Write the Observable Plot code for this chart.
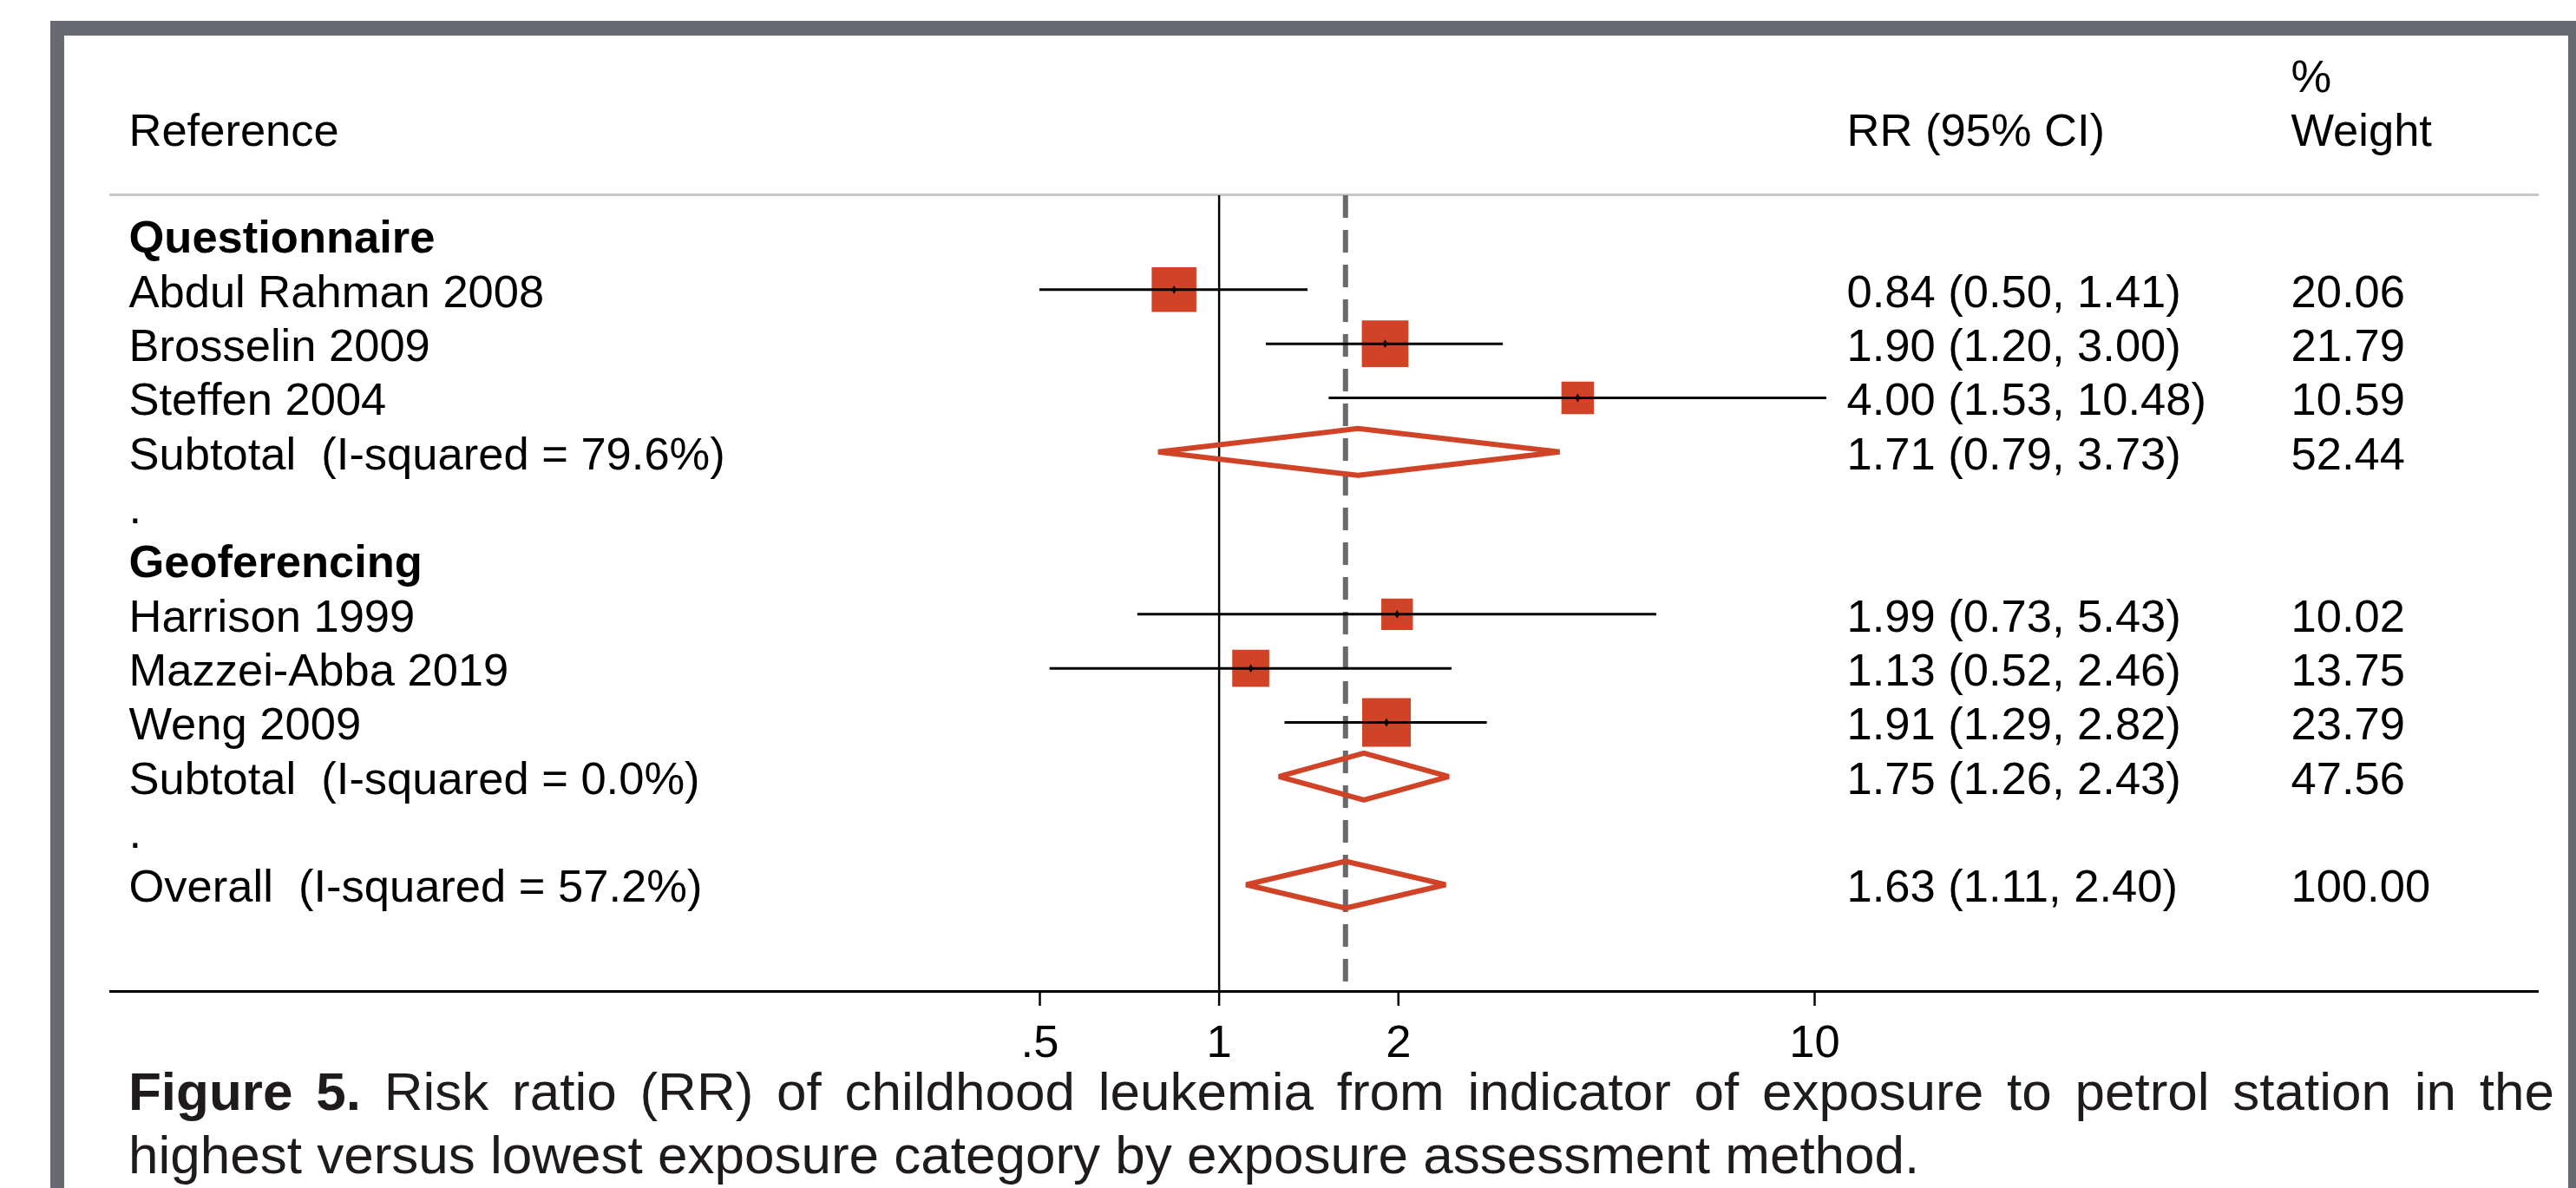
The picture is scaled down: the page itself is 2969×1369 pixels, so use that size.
<!DOCTYPE html>
<html>
<head>
<meta charset="utf-8">
<script src="https://cdn.jsdelivr.net/npm/d3@7"></script>
<script src="https://cdn.jsdelivr.net/npm/@observablehq/plot@0.6"></script>
<style>
  html, body { margin: 0; padding: 0; background: #ffffff; width: 2969px; height: 1369px; overflow: hidden; }
  #chart { position: absolute; left: 0; top: 0; }
  #frame { position: absolute; left: 58px; top: 24px; width: 3000px; height: 1400px;
           border-left: 16px solid #676a6e; border-top: 17px solid #676a6e; box-sizing: border-box; }
  #frameR { position: absolute; left: 2960px; top: 24px; width: 16px; height: 1400px; background: #676a6e; }
  .cap { position: absolute; left: 148px; width: 2796px; white-space: nowrap;
         font-family: "Liberation Sans", Arial, Helvetica, sans-serif; font-size: 62px; line-height: 73px;
         color: #1f1b1c; }
  #cap1 { top: 1221px; text-align: justify; text-align-last: justify; white-space: normal; }
  #cap2 { top: 1294px; text-align: left; }
  .cap b { font-weight: bold; }
</style>
</head>
<body>
<div id="chart"></div>
<div id="frame"></div>
<div id="frameR"></div>
<div id="cap1" class="cap"><b>Figure 5.</b> Risk ratio (RR) of childhood leukemia from indicator of exposure to petrol station in the</div>
<div id="cap2" class="cap">highest versus lowest exposure category by exposure assessment method.</div>
<script>
// ---- data ----
const rowLabels = [
  "Questionnaire",
  "Abdul Rahman 2008",
  "Brosselin 2009",
  "Steffen 2004",
  "Subtotal\u00a0 (I-squared = 79.6%)",
  ".",
  "Geoferencing",
  "Harrison 1999",
  "Mazzei-Abba 2019",
  "Weng 2009",
  "Subtotal\u00a0 (I-squared = 0.0%)",
  ".",
  "Overall\u00a0 (I-squared = 57.2%)"
];
const rowKinds = ["group","study","study","study","subtotal","blank","group","study","study","study","subtotal","blank","overall"];
const rrValues = [null, 0.84, 1.90, 4.00, 1.71, null, null, 1.99, 1.13, 1.91, 1.75, null, 1.63];
const ciLow    = [null, 0.50, 1.20, 1.53, 0.79, null, null, 0.73, 0.52, 1.29, 1.26, null, 1.11];
const ciHigh   = [null, 1.41, 3.00, 10.48, 3.73, null, null, 5.43, 2.46, 2.82, 2.43, null, 2.40];
const weights  = [null, 20.06, 21.79, 10.59, 52.44, null, null, 10.02, 13.75, 23.79, 47.56, null, 100.00];
const tickValues = [0.5, 1, 2, 10];
const tickLabels = [".5", "1", "2", "10"];
const headerLeft = "Reference";
const headerRR = "RR (95% CI)";
const headerW1 = "%";
const headerW2 = "Weight";

// ---- layout / style ----
const FONT = "Liberation Sans, Arial, Helvetica, sans-serif";
const RED = "#d04326";
const FS = 52.5;
const TDY = 3;
const yTop = 271, yBottom = 1019;
const rowStep = (yBottom - yTop) / (rowLabels.length - 1);
const rowAt = px => (px - yTop) / rowStep;
const diamondHalf = 27 / rowStep;
const fmt = d3.format(".2f");
const tickLabelOf = new Map(tickValues.map((v, i) => [v, tickLabels[i]]));

const rows = rowLabels.map((label, i) => ({
  i, label, kind: rowKinds[i], rr: rrValues[i], lo: ciLow[i], hi: ciHigh[i], w: weights[i]
}));
const studies = rows.filter(d => d.kind === "study");
const pooled = rows.filter(d => d.kind === "subtotal" || d.kind === "overall");
const overall = rows.find(d => d.kind === "overall");
const withStats = rows.filter(d => d.rr != null);
const diamondPts = pooled.flatMap(d => [
  {x: d.lo, y: d.i, g: d.i},
  {x: d.rr, y: d.i - diamondHalf, g: d.i},
  {x: d.hi, y: d.i, g: d.i},
  {x: d.rr, y: d.i + diamondHalf, g: d.i}
]);

const sepRow = rowAt(224);
const axisRow = rowAt(1142);
const colLabel = 22, colRR = 2002, colW = 2514;

const chart = Plot.plot({
  width: 2969,
  height: 1240,
  marginLeft: 126,
  marginRight: 43,
  marginTop: 0,
  marginBottom: 98,
  style: {fontFamily: FONT, fontSize: FS + "px", background: "transparent", color: "black", overflow: "visible"},
  x: {type: "log", domain: [0.5, 10], range: [1198, 2091], label: null, axis: null},
  y: {domain: [0, rowLabels.length - 1], range: [yTop, yBottom], axis: null, label: null},
  r: {type: "sqrt", domain: [0, 100], range: [0, 64.9]},
  marks: [
    Plot.ruleY([sepRow], {stroke: "#c6c6c6", strokeWidth: 3}),
    Plot.ruleX([1], {y1: rowAt(225), y2: axisRow, stroke: "black", strokeWidth: 2.5}),
    Plot.ruleX([overall.rr], {y1: rowAt(225), y2: axisRow, stroke: "#66696e", strokeWidth: 6, strokeDasharray: "26,14"}),
    Plot.dot(studies, {x: "rr", y: "i", r: "w", symbol: "square", fill: RED, stroke: "none"}),
    Plot.ruleY(studies, {y: "i", x1: "lo", x2: "hi", stroke: "black", strokeWidth: 3}),
    Plot.dot(studies, {x: "rr", y: "i", r: 3, symbol: "diamond", fill: "black", stroke: "none"}),
    Plot.line(diamondPts, {x: "x", y: "y", z: "g", curve: "linear-closed", stroke: RED, strokeWidth: 6, strokeLinejoin: "miter"}),
    Plot.ruleY([axisRow], {stroke: "black", strokeWidth: 3}),
    Plot.axisX(tickValues, {anchor: "bottom", tickFormat: d => tickLabelOf.get(d), tickSize: 17, tickPadding: 21,
      fontSize: FS, strokeWidth: 2.5, stroke: "black", label: null}),
    // row labels
    Plot.text(rows.filter(d => d.kind !== "group"), {y: "i", text: "label", frameAnchor: "left", dx: colLabel, dy: TDY,
      textAnchor: "start", fontSize: FS, fill: "black"}),
    Plot.text(rows.filter(d => d.kind === "group"), {y: "i", text: "label", frameAnchor: "left", dx: colLabel, dy: TDY,
      textAnchor: "start", fontSize: FS, fontWeight: "bold", fill: "black"}),
    // RR column
    Plot.text(withStats, {y: "i", text: d => `${fmt(d.rr)} (${fmt(d.lo)}, ${fmt(d.hi)})`, frameAnchor: "left",
      dx: colRR, dy: TDY, textAnchor: "start", fontSize: FS, fill: "black"}),
    // weight column
    Plot.text(withStats, {y: "i", text: d => fmt(d.w), frameAnchor: "left", dx: colW, dy: TDY,
      textAnchor: "start", fontSize: FS, fill: "black"}),
    // headers
    Plot.text([headerLeft], {y: rowAt(151), text: d => d, frameAnchor: "left", dx: colLabel, textAnchor: "start", fontSize: FS, fill: "black"}),
    Plot.text([headerRR], {y: rowAt(151), text: d => d, frameAnchor: "left", dx: colRR, textAnchor: "start", fontSize: FS, fill: "black"}),
    Plot.text([headerW2], {y: rowAt(151), text: d => d, frameAnchor: "left", dx: colW, textAnchor: "start", fontSize: FS, fill: "black"}),
    Plot.text([headerW1], {y: rowAt(89), text: d => d, frameAnchor: "left", dx: colW, textAnchor: "start", fontSize: FS, fill: "black"})
  ]
});
document.getElementById("chart").appendChild(chart);
</script>
</body>
</html>
